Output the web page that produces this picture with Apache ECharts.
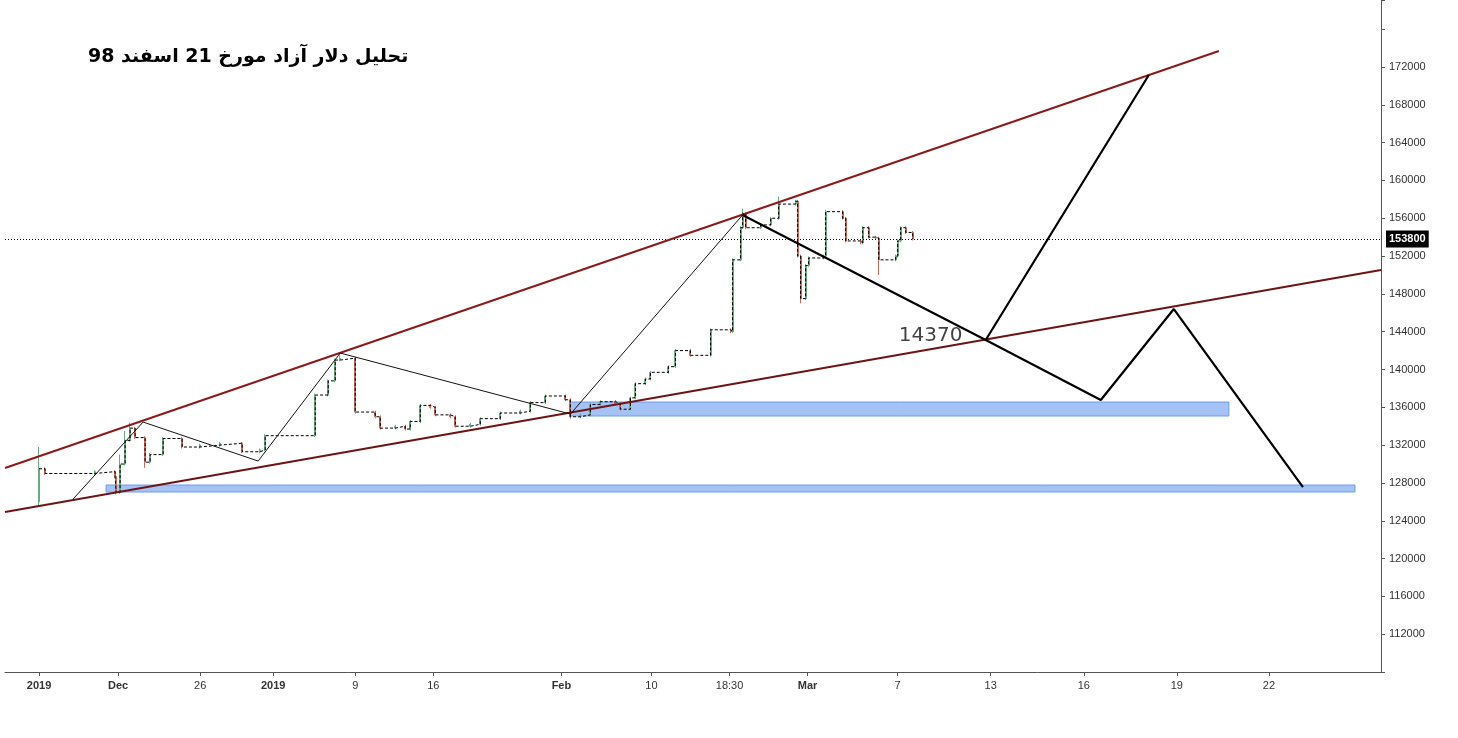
<!DOCTYPE html>
<html><head><meta charset="utf-8">
<script src="https://cdn.jsdelivr.net/npm/echarts@6/dist/echarts.min.js"></script>
<style>html,body{margin:0;padding:0;background:#fff}#c{width:1458px;height:738px}</style>
</head><body><div id="c"></div>
<script>
// x unit: time index; price in rials
const tickPos = [6.8,22.6,39,53.6,70,85.6,111.2,129.2,144.8,160.4,178.4,197,215.6,234.2,252.6];
const tickLabels = ['2019','Dec','26','2019','9','16','Feb','10','18:30','Mar','7','13','16','19','22'];
const boldLabels = ['2019','Dec','Feb','Mar'];
// [x, close, low, high]
const steps = [
[6.8,129500,125500,131800],[8,129000],[18,129200],[22,128700],[22.2,127000,126800],[23,130000,null,131000],
[24,132500,null,133500],[25,133800,null,134400],[26,132800],[28,130200,129600],[29,131000],[31.6,132700],
[35.4,131800],[39,132000],[43,132200],[47.4,131300],[51,131500],[52,133000],[62,137300],[64.6,138800],
[66,141000],[67,141200,null,141500],[70,135500],[74,135000],[75,133800],[78,134000],[80,133700],[81,134500],
[83,136200],[85,136000],[86,135200],[89,135000],[90,134000],[93,134200],[95,134800],[99,135400],[103,135600],
[105,136500],[108,137200],[112,136800],[113,135000,134800],[115,135200],[117,136300],[119,136600],[122,136400],
[123,135800],[125,137000],[126,138500],[128,139000],[129,139700],[132.6,140300],[134,142000],[137,141500],
[141,144200],[145,144000],[145.4,151600],[147,155000],[147.4,156500,null,157000],[148,155000],[151,155300],
[153,156000],[154.6,157500,null,158300],[158,157800],[158.4,152000],[159,147500,147000],[160,151000],
[160.6,151800],[163.6,152000],[164,156700,null,156900],[167.4,156000],[168,153600],[171,153400],[171.4,155000],
[172.6,154000],[174,153900],[174.6,151600,150000],[178,152000],[178.4,153600],[179,155000],[180,154500],[181.4,153800]
];
const startOpen = 126000;
const lastPrice = 153800;
const upperTrend = [[0,129574],[242.6,173693]];
const lowerTrend = [[0,124919],[275,150523]];
const thinWave = [[13.6,126294],[27.6,134441],[50.6,130315],[67,141741],[113,135287],[147.4,156342]];
const bullPath = [[147.4,156342],[196,143117],[228.6,171154]];
const bearPath = [[196,143117],[219,136769],[233.6,146397],[259.4,127564]];
const zones = [[113,136560,244.6,135080],[20.2,127780,269.8,127040]];
const noteLabel = {x:185, y:143600, text:'14370'};
const title = 'تحلیل دلار آزاد مورخ 21 اسفند 98';

let prev = startOpen;
const candles = steps.map(s => {
  const o = prev, c = s[1];
  const lo = s[2] != null ? s[2] : Math.min(o,c) - 150;
  const hi = s[3] != null ? s[3] : Math.max(o,c) + 150;
  prev = c;
  return {value:[s[0], o, c, lo, hi]};
});
const stepLine = steps.map(s => [s[0], s[1]]);

const chart = echarts.init(document.getElementById('c'));
const lineS = (data, color, width) => ({type:'line', data, symbol:'none', silent:true, animation:false,
  lineStyle:{color, width}, z:5});
chart.setOption({
  animation:false,
  grid:{left:5,right:77,top:0,bottom:66},
  xAxis:{type:'value',min:0,max:275,
    axisLine:{onZero:false,lineStyle:{color:'#555'}},
    splitLine:{show:false},
    axisTick:{show:true,customValues:tickPos,length:4,lineStyle:{color:'#555'}},
    axisLabel:{customValues:tickPos,color:'#333',fontSize:11,fontFamily:'Arial, Liberation Sans',margin:8,
      formatter:v=>{const i=tickPos.findIndex(t=>Math.abs(t-v)<0.01);const l=tickLabels[i]||'';return boldLabels.includes(l)?'{b|'+l+'}':l;},
      rich:{b:{fontWeight:'bold',fontSize:11,color:'#333'}}}},
  yAxis:{type:'value',position:'right',min:108000,max:179089,interval:4000,
    axisLine:{show:true,onZero:false,lineStyle:{color:'#555'}},axisTick:{show:true,length:4},
    splitLine:{show:false},
    axisLabel:{color:'#333',fontSize:11,fontFamily:'Arial, Liberation Sans',
      formatter:v=>(v<=108000||v>172000)?'':String(v)}},
  graphic:[{type:'text',left:88,top:48,style:{text:title,font:'bold 19px "DejaVu Sans", "Noto Sans"',fill:'#000'}}],
  series:[
    {type:'custom',silent:true,z:1,data:zones,
      renderItem:(params,api)=>{const a=api.coord([api.value(0),api.value(1)]);const b=api.coord([api.value(2),api.value(3)]);
        return {type:'rect',shape:{x:a[0],y:a[1],width:b[0]-a[0],height:b[1]-a[1]},style:{fill:'#a4c2f4',stroke:'#6d9eeb',lineWidth:1}};}},
    {type:'candlestick',data:candles,barWidth:1.5,z:3,
      itemStyle:{color:'#6aaa80',color0:'#c86a5a',borderColor:'#6aaa80',borderColor0:'#c86a5a',borderWidth:1}},
    {type:'line',data:stepLine,step:'end',symbol:'none',z:4,lineStyle:{color:'#000',width:1,type:[3,2]},
      markLine:{symbol:'none',silent:true,lineStyle:{color:'#000',type:[1,2],width:1},
        label:{position:'end',formatter:String(lastPrice),backgroundColor:'#000',color:'#fff',fontWeight:'bold',fontSize:11,padding:[3,3]},
        data:[{yAxis:lastPrice}]}},
    lineS(upperTrend,'#8b1a1a',2),
    lineS(lowerTrend,'#6e1414',2),
    lineS(thinWave,'#111',1),
    lineS(bullPath,'#000',2.2),
    lineS(bearPath,'#000',2.2),
    {type:'scatter',data:[[noteLabel.x,noteLabel.y]],symbolSize:0,z:6,
      label:{show:true,formatter:noteLabel.text,fontSize:20,color:'#111',fontFamily:'DejaVu Sans'}}
  ]
});
</script></body></html>
